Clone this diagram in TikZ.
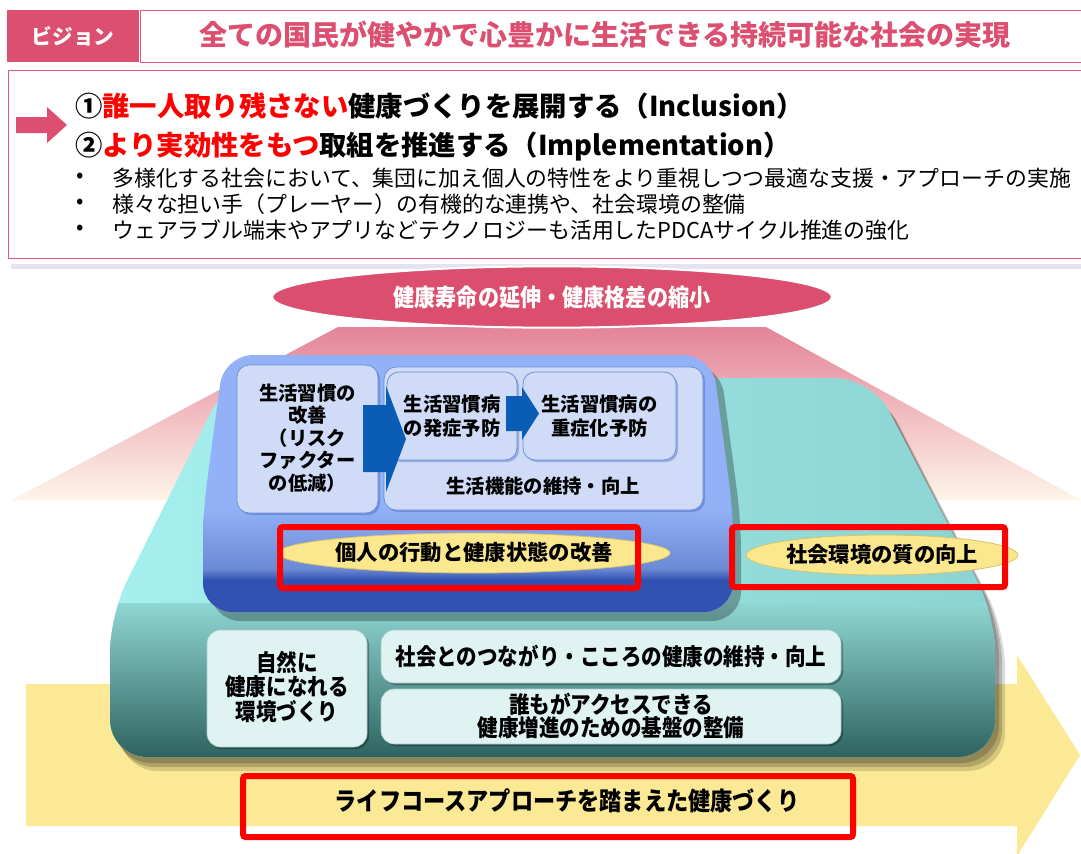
\documentclass[tikz,border=0pt]{standalone}
\usepackage{fontspec}
\newfontfamily\jp{Noto Sans CJK JP}
\newfontfamily\jpc{Noto Sans CJK JP}[FakeStretch=0.88]
\usetikzlibrary{shapes.geometric,shadows}
\definecolor{vpink}{HTML}{DC4F70}
\definecolor{hborder}{HTML}{E6577C}
\definecolor{ellpink}{HTML}{DB4E6D}
\definecolor{trapTop}{HTML}{E4849A}
\definecolor{trapBot}{HTML}{FDF5E8}
\definecolor{yel}{HTML}{FCE995}
\definecolor{yelE}{HTML}{FBE88E}
\definecolor{yelD}{HTML}{D9C36A}
\definecolor{tealL}{HTML}{A6EFEF}
\definecolor{tealR}{HTML}{8BD4D2}
\definecolor{tealS1}{HTML}{90D6D3}
\definecolor{tealS2}{HTML}{66A39F}
\definecolor{tealS3}{HTML}{2C615D}
\definecolor{blueT}{HTML}{93B1F6}
\definecolor{blueS}{HTML}{6A88D4}
\definecolor{blueD}{HTML}{3152B2}
\definecolor{innerF}{HTML}{D0DBF8}
\definecolor{innerD}{HTML}{6E8FD4}
\definecolor{arrB}{HTML}{0B5CB5}
\definecolor{lowF}{HTML}{E0F3F3}
\definecolor{lowD}{HTML}{A8CACA}
\definecolor{lav}{HTML}{E4E4F0}
\begin{document}
\begin{tikzpicture}[x=0.75pt,y=-0.75pt,
  inbox/.style={draw=innerD, line width=0.6pt, fill=innerF, rounded corners=9pt, inner sep=0pt,
    drop shadow={shadow xshift=1.5pt, shadow yshift=-1.5pt, opacity=.35, fill=blueD}},
  lowbox/.style={draw=lowD, line width=0.5pt, fill=lowF, rounded corners=10pt, inner sep=0pt,
    drop shadow={shadow xshift=1.5pt, shadow yshift=-1.5pt, opacity=.3, fill=black}},
  redframe/.style={draw=red, line width=4.5pt, rounded corners=2pt, inner sep=0pt},
  yell/.style={ellipse, fill=yelE, draw=yelD, line width=.6pt, inner sep=0pt},
  boxtxt/.style={font=\jp\bfseries\fontsize{14.5}{16.9}\selectfont, align=center, inner sep=0pt},
  lowtxt/.style={font=\jpc\bfseries\fontsize{17.5}{18.4}\selectfont, align=center, inner sep=0pt},
  bultxt/.style={font=\jp\fontsize{16.4}{19}\selectfont, anchor=west, inner sep=0pt},
  headtxt/.style={font=\jp\bfseries\fontsize{20.5}{24}\selectfont, anchor=west, inner sep=0pt},
  bluearrow/.style={fill=arrB}
  ]
\useasboundingbox (0,0) rectangle (1081,853);
\fill[white] (0,0) rectangle (1081,853);

% ---------- header ----------
\node[draw=hborder, line width=1pt, fill=white, anchor=north west, minimum width=720pt, minimum height=39pt, inner sep=0pt] (titlebox) at (140,10) {};
\node[fill=vpink, anchor=north west, minimum width=99pt, minimum height=39pt, inner sep=0pt,
  font=\jp\bfseries\fontsize{15.5}{18}\selectfont, text=white] (vision) at (7,10) {ビジョン};
\node[font=\jp\bfseries\fontsize{21}{24}\selectfont, text=vpink, inner sep=0pt] (title) at (605,35)
  {全ての国民が健やかで心豊かに生活できる持続可能な社会の実現};

% ---------- second box ----------
\node[draw=hborder, line width=1pt, anchor=north west, minimum width=820pt, minimum height=141pt, inner sep=0pt] (box2) at (8,70) {};
\coordinate (arrL) at (16,125);
\fill[vpink] (arrL) ++(0,-8) -- ++(31,0) -- ++(0,-10) -- (67,125) -- (47,143) -- ++(0,-10) -- ++(-31,0) -- cycle;
\node[headtxt] (l1) at (75,106) {①\textcolor{red}{誰一人取り残さない}健康づくりを展開する（Inclusion）};
\node[headtxt] (l2) at (75,147) {②\textcolor{red}{より実効性をもつ}取組を推進する（Implementation）};
\node[bultxt] (d1) at (76,178) {•};
\node[bultxt] (d2) at (76,204) {•};
\node[bultxt] (d3) at (76,230) {•};
\node[bultxt] (b1) at (112,178) {多様化する社会において、集団に加え個人の特性をより重視しつつ最適な支援・アプローチの実施};
\node[bultxt] (b2) at (112,204) {様々な担い手（プレーヤー）の有機的な連携や、社会環境の整備};
\node[bultxt] (b3) at (112,230) {ウェアラブル端末やアプリなどテクノロジーも活用したPDCAサイクル推進の強化};

\fill[lav] (11,264) rectangle (1081,269);

% ---------- pink trapezoid & ellipse ----------
\shade[top color=trapTop, bottom color=trapBot] (338,327) -- (766,327) -- (1081,500) -- (12,500) -- cycle;
\node[ellipse, fill=ellpink, draw=white, line width=1.5pt, minimum width=420pt, minimum height=46pt, inner sep=0pt,
  font=\jpc\bfseries\fontsize{18}{20}\selectfont, text=white] (goal) at (552,297) {健康寿命の延伸・健康格差の縮小};

% ---------- yellow arrow ----------
\fill[yel] (26,684) -- (1017,684) -- (1017,655) -- (1080,755) -- (1017,856) -- (1017,826) -- (26,826) -- cycle;

% ---------- teal platform ----------
\foreach \dx/\dy/\op in {4/6/0.18, 7/10/0.18, 10/14/0.14}{
  \fill[black, opacity=\op, rounded corners=28pt, shift={(\dx,\dy)}]
    (552,757) -- (110,757) -- (110,615) -- (228,378) -- (872,378) -- (995,615) -- (995,757) -- cycle;
}
\shade[left color=tealL, right color=tealR, rounded corners=28pt]
  (552,757) -- (110,757) -- (110,615) -- (228,378) -- (872,378) -- (995,615) -- (995,757) -- cycle;
\begin{scope}
  \clip[rounded corners=28pt]
    (552,757) -- (110,757) -- (110,615) -- (228,378) -- (872,378) -- (995,615) -- (995,757) -- cycle;
  \shade[top color=tealS1, middle color=tealS2, bottom color=tealS3] (100,603) rectangle (1000,760);
\end{scope}

% ---------- blue platform ----------
\fill[black, opacity=.28, rounded corners=22pt, shift={(8,9)}]
  (468,612) -- (203,612) -- (203,512) -- (224,355) -- (712,355) -- (733,512) -- (733,612) -- cycle;
\fill[blueT, rounded corners=22pt]
  (468,612) -- (203,612) -- (203,512) -- (224,355) -- (712,355) -- (733,512) -- (733,612) -- cycle;
\begin{scope}
  \clip[rounded corners=22pt]
    (468,612) -- (203,612) -- (203,512) -- (224,355) -- (712,355) -- (733,512) -- (733,612) -- cycle;
  \shade[top color=blueT, bottom color=blueS] (195,508) rectangle (740,570);
  \shade[top color=blueS, bottom color=blueD] (195,569) rectangle (740,580);
  \fill[blueD] (195,579) rectangle (740,620);
\end{scope}

% inner boxes
\node[inbox, minimum width=105.75pt, minimum height=111pt] (boxA) at (307.5,439) {};
\node[boxtxt] (txtA) at (307.5,438) {生活習慣の\\改善\\（リスク\\ファクター\\の低減）};
\node[inbox, minimum width=239.25pt, minimum height=107.25pt] (boxB) at (543.5,438.5) {};
\node[boxtxt] (txtB) at (543,486) {生活機能の維持・向上};
\node[inbox, minimum width=97.5pt, minimum height=66pt, font=\jp\bfseries\fontsize{14.5}{18}\selectfont, align=center] (boxC) at (452,416) {生活習慣病\\の発症予防};
\node[inbox, minimum width=114.75pt, minimum height=66pt, font=\jp\bfseries\fontsize{14.5}{18}\selectfont, align=center] (boxD) at (599.5,416) {生活習慣病の\\重症化予防};

% blue arrows A -> C, C -> D
\fill[bluearrow] (363,405) -- (386,405) -- (386,386) -- (406,439) -- (386,492) -- (386,472) -- (363,472) -- cycle;
\fill[bluearrow] (506,396) -- (522,396) -- (522,387) -- (539,413.5) -- (522,440) -- (522,431) -- (506,431) -- cycle;

% yellow ellipses + red frames
\node[yell, minimum width=250.5pt, minimum height=30pt, font=\jp\bfseries\fontsize{16}{18}\selectfont] (indiv) at (474,553) {\raisebox{2pt}{個人の行動と健康状態の改善}};
\node[yell, minimum width=201.75pt, minimum height=30pt, font=\jp\bfseries\fontsize{16}{18}\selectfont] (social) at (882,555) {\raisebox{3pt}{社会環境の質の向上}};
\node[redframe, minimum width=268.5pt, minimum height=45.75pt] (rf1) at (459,557.5) {};
\node[redframe, minimum width=204.75pt, minimum height=45pt] (rf2) at (868.5,557) {};

% lower teal boxes
\node[lowbox, minimum width=120pt, minimum height=87.75pt] (boxE) at (287,688.5) {};
\node[lowtxt] (txtE) at (287,687) {自然に\\健康になれる\\環境づくり};
\node[lowbox, minimum width=345pt, minimum height=39.75pt, font=\jpc\bfseries\fontsize{17.5}{18.4}\selectfont] (boxF) at (611,656.5) {社会とのつながり・こころの健康の維持・向上};
\node[lowbox, minimum width=345pt, minimum height=41.25pt] (boxG) at (611,716.5) {};
\node[lowtxt, font=\jpc\bfseries\fontsize{17.5}{17.3}\selectfont] (txtG) at (611,715.5) {誰もがアクセスできる\\健康増進のための基盤の整備};

% life course
\node[redframe, minimum width=457.5pt, minimum height=45.75pt] (rf3) at (548,806.5) {};
\node[font=\jpc\bfseries\fontsize{18.9}{20}\selectfont, inner sep=0pt] (life) at (567,801) {ライフコースアプローチを踏まえた健康づくり};
\end{tikzpicture}
\end{document}
